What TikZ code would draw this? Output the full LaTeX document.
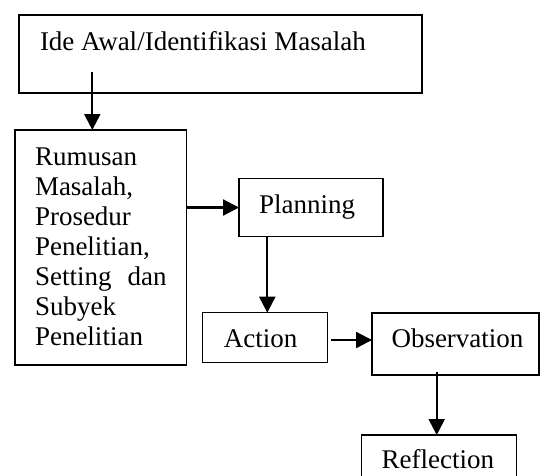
\documentclass[tikz,border=0pt]{standalone}
\usepackage{fontspec}
\setmainfont{Liberation Serif}
\usetikzlibrary{arrows.meta}
\begin{document}
\begin{tikzpicture}[x=1pt,y=-1pt,
  box/.style={draw=black,line width=1.4pt,rectangle,inner sep=0pt,outer sep=0pt,anchor=north west},
  txt/.style={inner sep=0pt,outer sep=0pt,anchor=base west,font=\fontsize{27}{30}\selectfont},
  arr/.style={line width=2.2pt,-{Triangle[width=16pt,length=16pt]}}]
\useasboundingbox (0,0) rectangle (540,475);
\clip (0,0) rectangle (540,475);
% boxes
\node[box,line width=1.7pt,minimum width=403.3pt,minimum height=78.3pt] (ide) at (19,15) {};
\node[box,minimum width=171.7pt,minimum height=235pt] (rumusan) at (15,130) {};
\node[box,minimum width=144pt,minimum height=58.4pt] (planning) at (239,178.3) {};
\node[box,minimum width=124.6pt,minimum height=50pt] (action) at (202.7,312.7) {};
\node[box,minimum width=167pt,minimum height=62pt] (observation) at (372,313) {};
\node[box,minimum width=155pt,minimum height=70pt] (reflection) at (361.7,435) {};
% texts
\node[txt] (tide) at (40,50) {Ide Awal/Identifikasi Masalah};
\node[txt] (trum) at (35,165) {\parbox[t]{131.7pt}{\setlength\parindent{0pt}\baselineskip=30pt
Rumusan\par Masalah,\par Prosedur\par Penelitian,\par \hbox to\linewidth{Setting\hfill dan}\par Subyek\par Penelitian}};
\node[txt] (tplan) at (259,213) {Planning};
\node[txt] (tact) at (223.8,347.5) {Action};
\node[txt] (tobs) at (391.5,347.5) {Observation};
\node[txt] (tref) at (381.7,468) {Reflection};
% connectors
\coordinate (s1) at (92.3,71.7);
\draw[arr] (s1) -- (s1 |- rumusan.north);
\draw[arr] (rumusan.east |- planning.west) -- (planning.west);
\coordinate (s2) at (267.3,236.7);
\draw[arr] (s2) -- (s2 |- action.north);
\coordinate (s3) at (331,340);
\draw[arr] (s3) -- (s3 -| observation.west);
\coordinate (s4) at (436.7,371.7);
\draw[arr] (s4) -- (s4 |- reflection.north);
\end{tikzpicture}
\end{document}
